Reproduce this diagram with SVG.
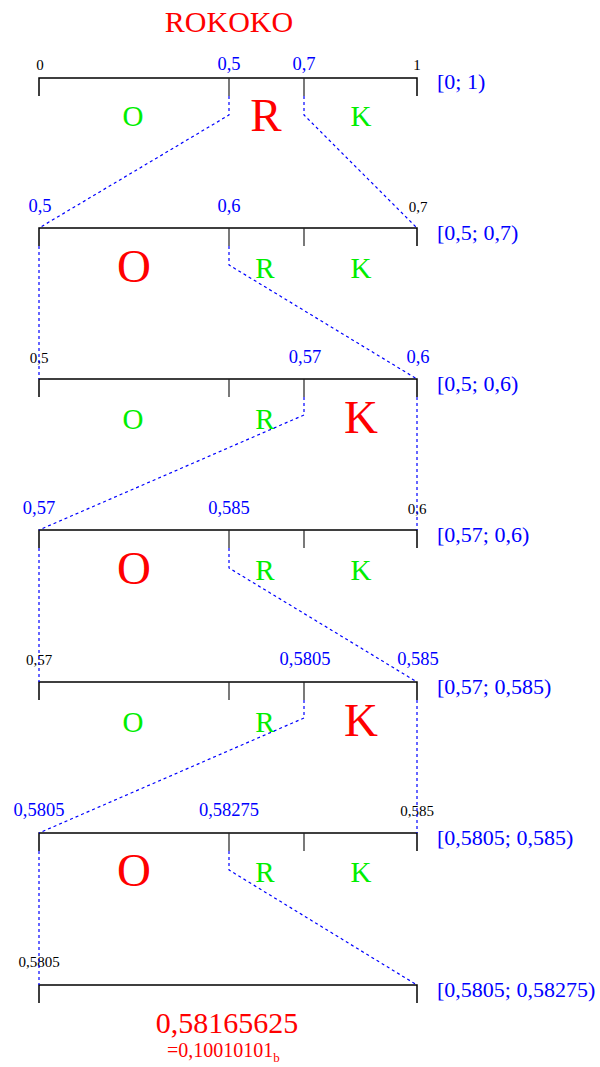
<svg xmlns="http://www.w3.org/2000/svg" width="600" height="1067" viewBox="0 0 600 1067">
<style>
text{font-family:"Liberation Serif","Times New Roman",serif}
.bar{fill:none;stroke:#000;stroke-width:1.5}
.tick{stroke:#222;stroke-width:1.2}
.dash{fill:none;stroke:#0000ff;stroke-width:1.2;stroke-dasharray:3,3}
.sm{font-size:15px;fill:#000;text-anchor:middle}
.bl{font-size:18.5px;fill:#0000ff;text-anchor:middle}
.iv{font-size:22px;fill:#0000ff}
.g{font-size:29px;fill:#00ee00;text-anchor:middle}
.r{font-size:47px;fill:#ff0000;text-anchor:middle}
</style>
<text x="229" y="32" font-size="30" fill="#ff0000" text-anchor="middle">ROKOKO</text>

<g id="row1">
<path class="bar" d="M39,96V78H417V96"/><path class="tick" d="M229,78V96M304,78V96"/>
<text class="sm" x="40" y="70">0</text><text class="bl" x="229" y="70">0,5</text><text class="bl" x="304" y="70">0,7</text><text class="sm" x="417" y="70">1</text>
<text class="iv" x="437" y="89">[0; 1)</text>
<text class="g" x="133" y="126">O</text><text class="r" x="266" y="131">R</text><text class="g" x="361" y="126">K</text>
</g>
<g id="row2">
<path class="bar" d="M39,246V228H417V246"/><path class="tick" d="M229,228V246M304,228V246"/>
<text class="bl" x="40" y="212">0,5</text><text class="bl" x="229" y="212">0,6</text><text class="sm" x="418" y="212">0,7</text>
<text class="iv" x="437" y="240">[0,5; 0,7)</text>
<text class="r" x="134" y="282">O</text><text class="g" x="265" y="278">R</text><text class="g" x="361" y="278">K</text>
</g>
<g id="row3">
<path class="bar" d="M39,397V379H417V397"/><path class="tick" d="M229,379V397M304,379V397"/>
<text class="sm" x="39" y="363">0,5</text><text class="bl" x="305" y="363">0,57</text><text class="bl" x="418" y="363">0,6</text>
<text class="iv" x="437" y="391">[0,5; 0,6)</text>
<text class="g" x="133" y="429">O</text><text class="g" x="265" y="429">R</text><text class="r" x="361" y="433">K</text>
</g>
<g id="row4">
<path class="bar" d="M39,548V530H417V548"/><path class="tick" d="M229,530V548M304,530V548"/>
<text class="bl" x="39" y="514">0,57</text><text class="bl" x="229" y="514">0,585</text><text class="sm" x="417" y="514">0,6</text>
<text class="iv" x="437" y="542">[0,57; 0,6)</text>
<text class="r" x="134" y="584">O</text><text class="g" x="265" y="580">R</text><text class="g" x="361" y="580">K</text>
</g>
<g id="row5">
<path class="bar" d="M39,700V682H417V700"/><path class="tick" d="M229,682V700M304,682V700"/>
<text class="sm" x="39" y="665">0,57</text><text class="bl" x="305" y="665">0,5805</text><text class="bl" x="418" y="665">0,585</text>
<text class="iv" x="437" y="694">[0,57; 0,585)</text>
<text class="g" x="133" y="732">O</text><text class="g" x="265" y="732">R</text><text class="r" x="361" y="736">K</text>
</g>
<g id="row6">
<path class="bar" d="M39,851V833H417V851"/><path class="tick" d="M229,833V851M304,833V851"/>
<text class="bl" x="39" y="816">0,5805</text><text class="bl" x="229" y="816">0,58275</text><text class="sm" x="417" y="816">0,585</text>
<text class="iv" x="437" y="845">[0,5805; 0,585)</text>
<text class="r" x="134" y="886">O</text><text class="g" x="265" y="882">R</text><text class="g" x="361" y="882">K</text>
</g>
<g id="row7">
<path class="bar" d="M39,1003V985H417V1003"/>
<text class="sm" x="39" y="967">0,5805</text>
<text class="iv" x="437" y="997">[0,5805; 0,58275)</text>
</g>
<g id="result">
<text x="227" y="1033" font-size="30" fill="#ff0000" text-anchor="middle">0,58165625</text>
<text x="167" y="1057" font-size="20" fill="#ff0000">=0,10010101<tspan font-size="13" dy="5">b</tspan></text>
</g>

<g id="connectors">
<path class="dash" d="M229,96V115L39,228"/><path class="dash" d="M304,96V115L417,228"/>
<path class="dash" d="M39,246V379"/><path class="dash" d="M229,246V265L417,379"/>
<path class="dash" d="M304,397V415L39,530"/><path class="dash" d="M417,397V530"/>
<path class="dash" d="M39,548V682"/><path class="dash" d="M229,548V568L417,682"/>
<path class="dash" d="M304,700V718L39,833"/><path class="dash" d="M417,700V833"/>
<path class="dash" d="M39,851V985"/><path class="dash" d="M229,851V870L417,985"/>
</g>
</svg>
